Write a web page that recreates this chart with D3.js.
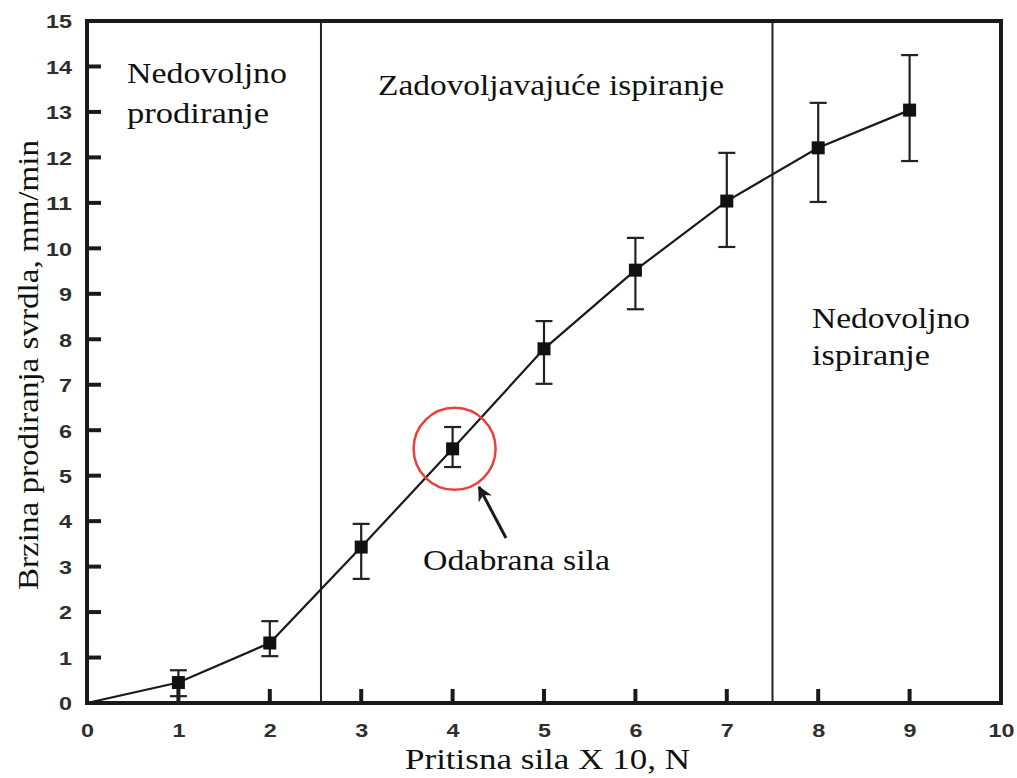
<!DOCTYPE html>
<html>
<head>
<meta charset="utf-8">
<script src="https://cdn.jsdelivr.net/npm/d3@7"></script>
<style>
  body { margin: 0; background: #fff; }
  svg { display: block; }
</style>
</head>
<body>
<svg id="chart" width="1017" height="778"></svg>
<script>
// Pressing force (x10 N) vs. drill penetration rate (mm/min)
const force = [0, 1, 2, 3, 4, 5, 6, 7, 8, 9];
const rate  = [0, 0.45, 1.32, 3.43, 5.59, 7.79, 9.52, 11.04, 12.21, 13.04];
const errLow  = [null, 0.15, 1.03, 2.73, 5.19, 7.02, 8.66, 10.03, 11.02, 11.92];
const errHigh = [null, 0.72, 1.80, 3.94, 6.07, 8.40, 10.23, 12.10, 13.20, 14.25];
const xTicks = [0, 1, 2, 3, 4, 5, 6, 7, 8, 9, 10];
const yTicks = [0, 1, 2, 3, 4, 5, 6, 7, 8, 9, 10, 11, 12, 13, 14, 15];
const zoneBounds = [2.56, 7.5];
const selectedForce = 4;

const svg = d3.select("#chart");
const x = d3.scaleLinear().domain([0, 10]).range([87, 1001]);
const y = d3.scaleLinear().domain([0, 15]).range([703, 21]);

const ink = "#1a1a1a";
const sans = "'Liberation Sans', Arial, sans-serif";
const serif = "'Liberation Serif', 'Times New Roman', serif";

// Zone separators
svg.selectAll("line.zone").data(zoneBounds).join("line")
  .attr("class", "zone")
  .attr("x1", d => x(d)).attr("x2", d => x(d))
  .attr("y1", y(15)).attr("y2", y(0))
  .attr("stroke", "#222").attr("stroke-width", 2);

// Axes: labels from d3 axes, inward ticks drawn along the frame
const yAxis = d3.axisLeft(y).tickValues(yTicks).tickSize(0).tickFormat(d3.format("d"));
const xAxis = d3.axisBottom(x).tickValues(xTicks).tickSize(0).tickFormat(d3.format("d"));
const gy = svg.append("g").attr("transform", `translate(${x(0)},0)`).call(yAxis);
const gx = svg.append("g").attr("transform", `translate(0,${y(0)})`).call(xAxis);
[gx, gy].forEach(g => {
  g.select(".domain").remove();
  g.selectAll(".tick text")
    .attr("fill", "#2e2e2e")
    .style("font-family", sans)
    .style("font-weight", "bold")
    .style("font-size", "19px")
    .attr("textLength", d => String(d).length * 13)
    .attr("lengthAdjust", "spacingAndGlyphs");
});
gy.selectAll(".tick text").attr("x", -15).attr("dy", "0.36em");
gx.selectAll(".tick text").attr("y", 34).attr("dy", 0);

svg.append("g").selectAll("line")
  .data(yTicks.filter(d => d > 0 && d < 15)).join("line")
  .attr("x1", x(0)).attr("x2", x(0) + 14)
  .attr("y1", d => y(d)).attr("y2", d => y(d))
  .attr("stroke", ink).attr("stroke-width", 4);
svg.append("g").selectAll("line")
  .data(xTicks.filter(d => d > 0 && d < 10)).join("line")
  .attr("x1", d => x(d)).attr("x2", d => x(d))
  .attr("y1", y(0)).attr("y2", y(0) - 14)
  .attr("stroke", ink).attr("stroke-width", 4);

// Frame
svg.append("rect")
  .attr("x", x(0)).attr("y", y(15))
  .attr("width", x(10) - x(0)).attr("height", y(0) - y(15))
  .attr("fill", "none").attr("stroke", ink).attr("stroke-width", 4);

// Data line
const pts = force.map((f, i) => ({ f, r: rate[i], lo: errLow[i], hi: errHigh[i] }));
svg.append("path").datum(pts)
  .attr("d", d3.line().x(d => x(d.f)).y(d => y(d.r)))
  .attr("fill", "none").attr("stroke", ink).attr("stroke-width", 2.2);

// Error bars
const eb = pts.filter(d => d.lo !== null);
const cap = 8.5;
const ebG = svg.append("g").attr("stroke", "#222").attr("stroke-width", 2.2);
ebG.selectAll("line.v").data(eb).join("line").attr("class", "v")
  .attr("x1", d => x(d.f)).attr("x2", d => x(d.f))
  .attr("y1", d => y(d.lo)).attr("y2", d => y(d.hi));
ebG.selectAll("line.lo").data(eb).join("line").attr("class", "lo")
  .attr("x1", d => x(d.f) - cap).attr("x2", d => x(d.f) + cap)
  .attr("y1", d => y(d.lo)).attr("y2", d => y(d.lo));
ebG.selectAll("line.hi").data(eb).join("line").attr("class", "hi")
  .attr("x1", d => x(d.f) - cap).attr("x2", d => x(d.f) + cap)
  .attr("y1", d => y(d.hi)).attr("y2", d => y(d.hi));

// Square markers
const sq = 13;
svg.selectAll("rect.pt").data(eb).join("rect").attr("class", "pt")
  .attr("x", d => x(d.f) - sq / 2).attr("y", d => y(d.r) - sq / 2)
  .attr("width", sq).attr("height", sq)
  .attr("fill", "#111");

// Highlight of selected force
const sel = pts.find(d => d.f === selectedForce);
svg.append("circle")
  .attr("cx", x(sel.f) + 2).attr("cy", y(sel.r)).attr("r", 41)
  .attr("fill", "none").attr("stroke", "#e8403a").attr("stroke-width", 2.5);

// Arrow
svg.append("defs").append("marker")
  .attr("id", "arrowhead").attr("viewBox", "0 0 10 10")
  .attr("refX", 9).attr("refY", 5)
  .attr("markerWidth", 5).attr("markerHeight", 5)
  .attr("markerUnits", "strokeWidth")
  .attr("orient", "auto")
  .append("path").attr("d", "M0,0 L10,5 L0,10 L3,5 Z").attr("fill", "#1a1a1a");
svg.append("line")
  .attr("x1", 506).attr("y1", 538).attr("x2", 479).attr("y2", 487)
  .attr("stroke", "#1a1a1a").attr("stroke-width", 3)
  .attr("marker-end", "url(#arrowhead)");

// Text annotations
const notes = [
  { t: "Nedovoljno", x: 127, y: 83, w: 160 },
  { t: "prodiranje", x: 127, y: 123, w: 142 },
  { t: "Zadovoljavajuće ispiranje", x: 378, y: 95, w: 346 },
  { t: "Nedovoljno", x: 812, y: 328, w: 158 },
  { t: "ispiranje", x: 812, y: 365, w: 118 },
  { t: "Odabrana sila", x: 423, y: 570, w: 187 }
];
svg.selectAll("text.note").data(notes).join("text").attr("class", "note")
  .attr("x", d => d.x).attr("y", d => d.y)
  .attr("textLength", d => d.w).attr("lengthAdjust", "spacingAndGlyphs")
  .text(d => d.t)
  .style("font-family", serif).style("font-size", "29px").attr("fill", "#111");

// Axis titles
svg.append("text")
  .attr("x", 405).attr("y", 769)
  .attr("textLength", 285).attr("lengthAdjust", "spacingAndGlyphs")
  .text("Pritisna sila X 10, N")
  .style("font-family", serif).style("font-size", "29px").attr("fill", "#111");
svg.append("text")
  .attr("transform", "translate(38,590) rotate(-90)")
  .attr("textLength", 450).attr("lengthAdjust", "spacingAndGlyphs")
  .text("Brzina prodiranja svrdla, mm/min")
  .style("font-family", serif).style("font-size", "29px").attr("fill", "#111");
</script>
</body>
</html>
